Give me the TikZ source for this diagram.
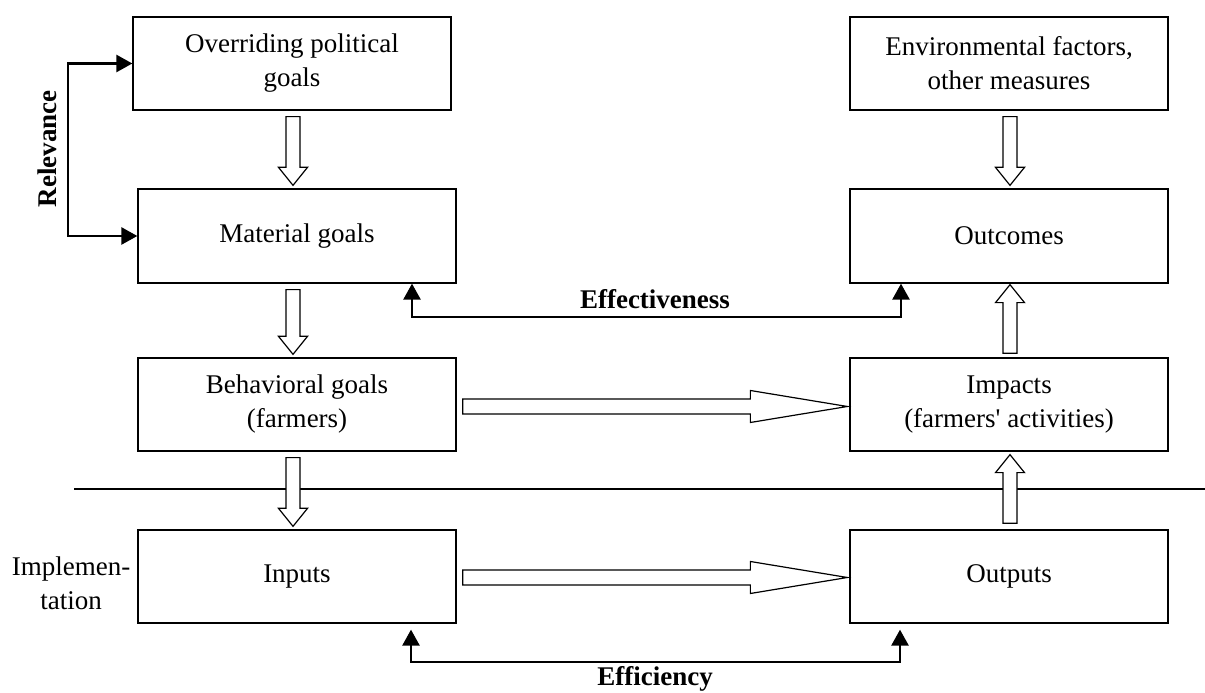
\documentclass[tikz,border=0pt]{standalone}
\usepackage{fontspec}
\setmainfont{Liberation Serif}
\usetikzlibrary{calc,arrows.meta}
\newcommand\blockarrow[5]{%
  \coordinate (ba-h) at ($(#2)!#5!(#1)$);
  \draw[blockarr] ($(#1)!#3!90:(#2)$) -- ($(ba-h)!#3!90:(#2)$) -- ($(ba-h)!#4!90:(#2)$)
    -- (#2) -- ($(ba-h)!#4!-90:(#2)$) -- ($(ba-h)!#3!-90:(#2)$) -- ($(#1)!#3!-90:(#2)$) -- cycle;
}
\tikzset{
  box/.style={draw, line width=1.3pt, minimum width=318pt, minimum height=93pt, inner sep=0pt,
    align=center, font=\fontsize{27}{34}\selectfont},
  lbl/.style={inner sep=0pt, font=\fontsize{27}{34}\selectfont},
  blbl/.style={inner sep=0pt, font=\fontsize{27}{34}\selectfont\bfseries},
  blockarr/.style={draw, fill=white, line width=1.2pt, line join=miter},
  bk/.style={line width=2.6pt, {Triangle[width=17pt,length=16pt]}-{Triangle[width=17pt,length=16pt]}},
  sep/.style={line width=1.3pt}
}
\begin{document}
\begin{tikzpicture}[x=1pt,y=1pt]
\useasboundingbox (0,0) rectangle (1205,693);
% boxes
\node[box] (pol) at (292,629.5) {Overriding political\\goals};
\node[box, minimum height=94pt] (mat) at (297,457) {Material goals};
\node[box] (beh) at (297,288.5) {Behavioral goals\\(farmers)};
\node[box] (inp) at (297,116.5) {Inputs};
\node[box] (env) at (1009,629.5) {Environmental factors,\\other measures};
\node[box, minimum height=94pt] (outc) at (1009,457) {Outcomes};
\node[box] (imp) at (1009,288.5) {Impacts\\(farmers\textquotesingle{} activities)};
\node[box] (outp) at (1009,116.5) {Outputs};
% separator line
\coordinate (hl1) at (74,204);
\coordinate (hl2) at (1205,204);
\draw[sep] (hl1) -- (hl2);
% columns
\coordinate (lc) at (293,0);
\coordinate (rc) at (1010,0);
% vertical block arrows (left column, downward)
\coordinate (a1s) at ($(pol.south -| lc)+(0,-6)$);
\coordinate (a1t) at ($(mat.north -| lc)+(0,3)$);
\blockarrow{a1s}{a1t}{7pt}{14.5pt}{18pt}
\coordinate (a2s) at ($(mat.south -| lc)+(0,-6)$);
\coordinate (a2t) at ($(beh.north -| lc)+(0,3)$);
\blockarrow{a2s}{a2t}{7pt}{14.5pt}{18pt}
\coordinate (a3s) at ($(beh.south -| lc)+(0,-6)$);
\coordinate (a3t) at ($(inp.north -| lc)+(0,3)$);
\blockarrow{a3s}{a3t}{7pt}{14.5pt}{18pt}
% right column
\coordinate (b1s) at ($(env.south -| rc)+(0,-6)$);
\coordinate (b1t) at ($(outc.north -| rc)+(0,3)$);
\blockarrow{b1s}{b1t}{7pt}{14.5pt}{18pt}
\coordinate (b2s) at ($(imp.north -| rc)+(0,4)$);
\coordinate (b2t) at ($(outc.south -| rc)+(0,-1)$);
\blockarrow{b2s}{b2t}{7pt}{14.5pt}{18pt}
\coordinate (b3s) at ($(outp.north -| rc)+(0,6)$);
\coordinate (b3t) at ($(imp.south -| rc)+(0,-3)$);
\blockarrow{b3s}{b3t}{7pt}{14.5pt}{18pt}
% horizontal block arrows
\coordinate (h1s) at ($(beh.east)+(6,-2)$);
\coordinate (h1t) at ($(imp.west)+(-2,-2)$);
\blockarrow{h1s}{h1t}{7.5pt}{16pt}{97pt}
\coordinate (h2s) at ($(inp.east)+(6,-1)$);
\coordinate (h2t) at ($(outp.west)+(-2,-1)$);
\blockarrow{h2s}{h2t}{7.5pt}{16pt}{97pt}
% relevance
\coordinate (rel) at (68,544);
\draw[bk] (pol.west) -| (rel) |- (mat.west);
\node[blbl, rotate=90, anchor=base] (relt) at (56,544) {Relevance};
% effectiveness
\coordinate (e1) at (412,376);
\coordinate (e2) at (901,376);
\draw[bk] (mat.south -| e1) -- (e1) -- (e2) -- (outc.south -| e2);
\node[blbl, anchor=base] (efft) at (655,384) {Effectiveness};
% efficiency
\coordinate (f1) at (411,31);
\coordinate (f2) at (900,31);
\coordinate (f1t) at ($(inp.south -| f1)+(0,-6)$);
\coordinate (f2t) at ($(outp.south -| f2)+(0,-6)$);
\draw[bk] (f1t) -- (f1) -- (f2) -- (f2t);
\node[blbl, anchor=base] (efct) at (655,7) {Efficiency};
% implementation
\node[lbl, align=center] (impl) at (71,110) {Implemen-\\tation};
\end{tikzpicture}
\end{document}
